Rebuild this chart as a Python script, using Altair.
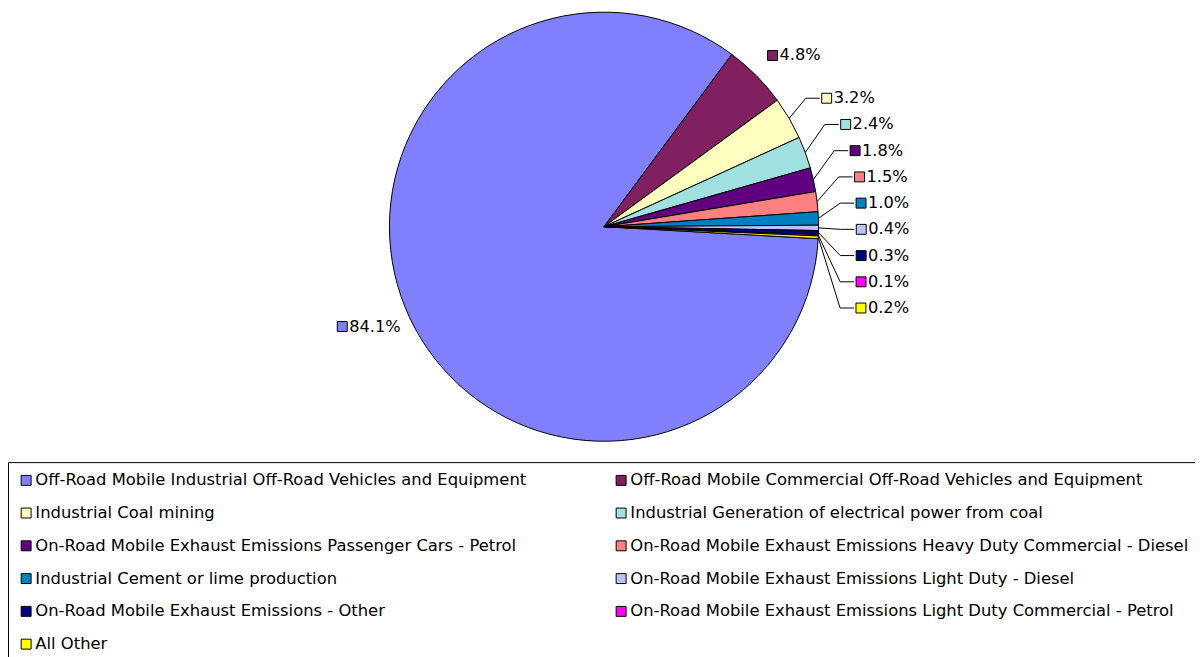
import math
import altair as alt
import pandas as pd

categories = [
    "Off-Road Mobile Industrial Off-Road Vehicles and Equipment",
    "Off-Road Mobile Commercial Off-Road Vehicles and Equipment",
    "Industrial Coal mining",
    "Industrial Generation of electrical power from coal",
    "On-Road Mobile Exhaust Emissions Passenger Cars - Petrol",
    "On-Road Mobile Exhaust Emissions Heavy Duty Commercial - Diesel",
    "Industrial Cement or lime production",
    "On-Road Mobile Exhaust Emissions Light Duty - Diesel",
    "On-Road Mobile Exhaust Emissions - Other",
    "On-Road Mobile Exhaust Emissions Light Duty Commercial - Petrol",
    "All Other",
]
values = [84.1, 4.8, 3.2, 2.4, 1.8, 1.5, 1.0, 0.4, 0.3, 0.1, 0.2]
colors = ["#8080FF", "#802060", "#FFFFC0", "#A0E0E0", "#600080", "#FF8080",
          "#0080C0", "#C0C0FF", "#000080", "#FF00FF", "#FFFF00"]
pct_labels = [f"{v:.1f}%" for v in values]

# layout constants
W, H = 1195, 649
CX, CY, R = 600, 218, 216
START = math.radians(93.2)
GAP = 26.4
FS = 16.3          # data label font size
LFS = 16.5         # legend font size
FONT = "DejaVu Sans"
LEADER_LIMIT = 4.0
CHAR_W = {"%": 0.95, ".": 0.318}

def text_w(s):
    return sum(CHAR_W.get(c, 0.636) for c in s) * FS

total = sum(values)
mids = []
cum = 0.0
for v in values:
    a0 = START + 2 * math.pi * cum / total
    cum += v
    a1 = START + 2 * math.pi * cum / total
    mids.append((a0 + a1) / 2)

# label layout computed from slice angles
lab = {}
leader_idx = [i for i, v in enumerate(values) if v < LEADER_LIMIT]
leader_idx.sort(key=lambda i: mids[i] % (2 * math.pi))
for i, v in enumerate(values):
    if i in leader_idx:
        continue
    a = mids[i]
    right = math.sin(a) >= 0
    off = 16 if right else 9
    px = CX + (R + off) * math.sin(a)
    py = CY - (R + off) * math.cos(a)
    bw = 13 + text_w(pct_labels[i])
    left = px if right else px - bw
    yc = py - 9 if math.cos(a) >= 0 else py + 5
    lab[i] = (left, yc, None)

y0 = None
for k, i in enumerate(leader_idx):
    a = mids[i]
    left = CX + (R + 38) * math.sin(a)
    if y0 is None:
        y0 = CY - (R + 40) * math.cos(a)
    yc = y0 + k * GAP
    lab[i] = (left, yc, (CX + R * math.sin(a), CY - R * math.cos(a)))

pie_df = pd.DataFrame({"category": categories, "value": values, "idx": list(range(len(values)))})

lab_rows = []
line_rows = []
for i in range(len(values)):
    left, yc, edge = lab[i]
    lab_rows.append({"category": categories[i], "label": pct_labels[i],
                     "sx": left + 5, "tx": left + 12, "ty": yc})
    if edge is not None:
        pts = [edge, (left - 16, yc), (left - 2, yc)]
        for j, (x, y) in enumerate(pts):
            line_rows.append({"key": categories[i], "ord": j, "lx": x, "ly": y})
lab_df = pd.DataFrame(lab_rows)
line_df = pd.DataFrame(line_rows)

# legend fills column by column: order the domain so it reads row by row
ncol = 2
nrow = math.ceil(len(categories) / ncol)
leg_order = [r * ncol + c for c in range(ncol) for r in range(nrow) if r * ncol + c < len(categories)]
leg_domain = [categories[i] for i in leg_order]
leg_range = [colors[i] for i in leg_order]

xs = alt.Scale(domain=[0, W], range=[0, W], nice=False, zero=False)
ys = alt.Scale(domain=[0, H], range=[0, H], nice=False, zero=False)
cscale = alt.Scale(domain=leg_domain, range=leg_range)

pie = alt.Chart(pie_df).mark_arc(radius=R, stroke="black", strokeWidth=1).encode(
    theta=alt.Theta("value:Q", stack=True,
                    scale=alt.Scale(range=[START, START + 2 * math.pi])),
    color=alt.Color("category:N", scale=cscale, legend=alt.Legend(
        title=None, orient="none", legendX=0, legendY=455, columns=ncol,
        strokeColor="black", padding=10, symbolType="square", symbolSize=100,
        symbolStrokeColor="black", symbolStrokeWidth=1, symbolOpacity=1,
        labelFont=FONT, labelFontSize=LFS, labelColor="black", labelLimit=1000,
        labelOffset=1, rowPadding=16, columnPadding=19, gridAlign="all")),
    order=alt.Order("idx:Q"),
    x=alt.value(CX), y=alt.value(CY),
)

lines = alt.Chart(line_df).mark_line(color="black", strokeWidth=1).encode(
    x=alt.X("lx:Q", scale=xs, axis=None),
    y=alt.Y("ly:Q", scale=ys, axis=None),
    detail="key:N",
    order="ord:Q",
)

syms = alt.Chart(lab_df).mark_point(shape="square", size=100, filled=True,
                                    stroke="black", strokeWidth=1, opacity=1).encode(
    x=alt.X("sx:Q", scale=xs, axis=None),
    y=alt.Y("ty:Q", scale=ys, axis=None),
    fill=alt.Fill("category:N", scale=cscale, legend=None),
)

texts = alt.Chart(lab_df).mark_text(align="left", baseline="middle", font=FONT,
                                    fontSize=FS, color="black").encode(
    x=alt.X("tx:Q", scale=xs, axis=None),
    y=alt.Y("ty:Q", scale=ys, axis=None),
    text="label:N",
)

chart = alt.layer(pie, lines, syms, texts).properties(
    width=W, height=H, autosize=alt.AutoSizeParams(type="none"), padding=0,
    background="white",
).configure_view(stroke=None)

chart.save("out.html", embed_options={"renderer": "svg", "actions": False})
